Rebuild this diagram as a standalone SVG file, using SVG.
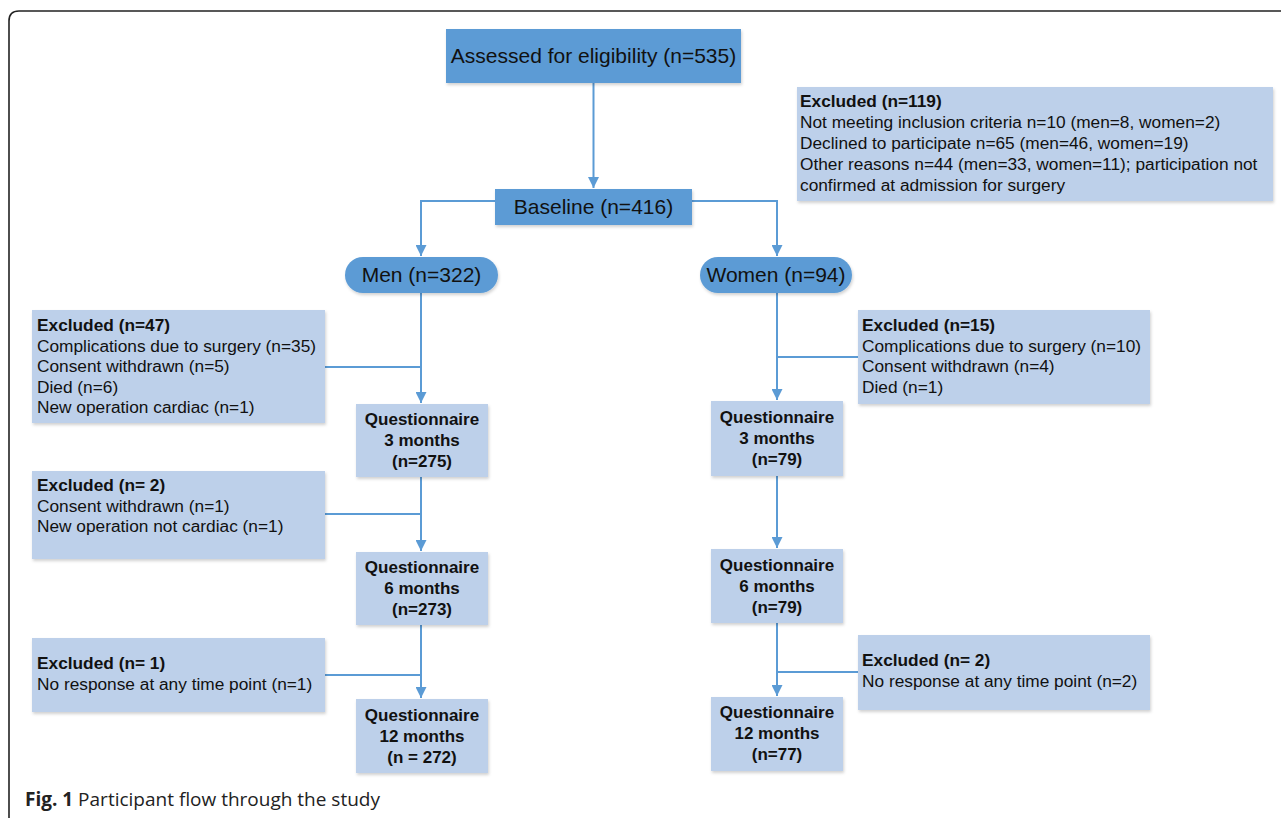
<svg xmlns="http://www.w3.org/2000/svg" width="1281" height="818" viewBox="0 0 1281 818">
<defs>
<marker id="ah" markerUnits="userSpaceOnUse" markerWidth="12" markerHeight="11" refX="11" refY="5.5" orient="auto">
<path d="M0,0 L11,5.5 L0,11 z" fill="#5b9bd5"/>
</marker>
<filter id="sh" x="-5%" y="-5%" width="115%" height="120%">
<feDropShadow dx="1" dy="2" stdDeviation="1.5" flood-color="#000" flood-opacity="0.18"/>
</filter>
<style>
.dk{fill:#5b9bd5;filter:url(#sh)}
.lt{fill:#bdd0ea;filter:url(#sh)}
.c{fill:none;stroke:#5b9bd5;stroke-width:2}
.a{marker-end:url(#ah)}
.big{font-family:"Liberation Sans",Arial,sans-serif;font-size:21px;fill:#111;text-anchor:middle}
.t{font-family:"Liberation Sans",Arial,sans-serif;font-size:17.3px;fill:#111}
.b{font-weight:bold}
.q{font-size:17px}
.m{text-anchor:middle}
.cap{font-family:"Open Sans","Noto Sans",sans-serif;font-size:19px;fill:#222}
</style>
</defs>
<rect width="1281" height="818" fill="#fff"/>
<path d="M9,818 V21 Q9,11 19,11 H1281" fill="none" stroke="#222" stroke-width="1.6"/>

<g id="connectors">
<path class="c a" d="M593.5,83 V188"/>
<path class="c a" d="M495,201 H421 V256"/>
<path class="c a" d="M692,201 H777 V256"/>
<path class="c a" d="M421,293 V403"/>
<path class="c" d="M325,367 H421"/>
<path class="c a" d="M421,477 V551"/>
<path class="c" d="M325,514 H421"/>
<path class="c a" d="M421,625 V698"/>
<path class="c" d="M325,675 H421"/>
<path class="c a" d="M777,293 V400"/>
<path class="c" d="M858,357 H777"/>
<path class="c a" d="M777,476 V548"/>
<path class="c a" d="M777,623 V696"/>
<path class="c" d="M858,672 H777"/>
</g>

<g id="assessed">
<rect class="dk" x="446" y="29" width="295" height="54"/>
<text class="big" x="593.5" y="63">Assessed for eligibility (n=535)</text>
</g>
<g id="excluded119">
<rect class="lt" x="797" y="87" width="476" height="114"/>
<text class="t b" x="800" y="107">Excluded (n=119)</text>
<text class="t" x="800" y="128">Not meeting inclusion criteria n=10 (men=8, women=2)</text>
<text class="t" x="800" y="149">Declined to participate n=65 (men=46, women=19)</text>
<text class="t" x="800" y="170">Other reasons n=44 (men=33, women=11); participation not</text>
<text class="t" x="800" y="191">confirmed at admission for surgery</text>
</g>
<g id="baseline">
<rect class="dk" x="495" y="189" width="197" height="36"/>
<text class="big" x="593.5" y="214">Baseline (n=416)</text>
</g>
<g id="men">
<rect class="dk" x="345" y="257" width="153" height="36" rx="18"/>
<text class="big" x="421.5" y="282">Men (n=322)</text>
</g>
<g id="women">
<rect class="dk" x="700" y="257" width="152" height="36" rx="18"/>
<text class="big" x="776" y="282">Women (n=94)</text>
</g>

<g id="excluded47">
<rect class="lt" x="32" y="310" width="293" height="113"/>
<text class="t b" x="37" y="331">Excluded (n=47)</text>
<text class="t" x="37" y="352">Complications due to surgery (n=35)</text>
<text class="t" x="37" y="372">Consent withdrawn (n=5)</text>
<text class="t" x="37" y="393">Died (n=6)</text>
<text class="t" x="37" y="413">New operation cardiac (n=1)</text>
</g>
<g id="men-q3">
<rect class="lt" x="356" y="404" width="132" height="73"/>
<text class="t q b m" x="422" y="425">Questionnaire</text>
<text class="t q b m" x="422" y="446">3 months</text>
<text class="t q b m" x="422" y="467">(n=275)</text>
</g>
<g id="excluded2m">
<rect class="lt" x="32" y="471" width="293" height="88"/>
<text class="t b" x="37" y="491">Excluded (n= 2)</text>
<text class="t" x="37" y="512">Consent withdrawn (n=1)</text>
<text class="t" x="37" y="532">New operation not cardiac (n=1)</text>
</g>
<g id="men-q6">
<rect class="lt" x="356" y="552" width="132" height="73"/>
<text class="t q b m" x="422" y="573">Questionnaire</text>
<text class="t q b m" x="422" y="594">6 months</text>
<text class="t q b m" x="422" y="615">(n=273)</text>
</g>
<g id="excluded1m">
<rect class="lt" x="32" y="638" width="293" height="74"/>
<text class="t b" x="37" y="669">Excluded (n= 1)</text>
<text class="t" x="37" y="690">No response at any time point (n=1)</text>
</g>
<g id="men-q12">
<rect class="lt" x="356" y="699" width="132" height="74"/>
<text class="t q b m" x="422" y="721">Questionnaire</text>
<text class="t q b m" x="422" y="742">12 months</text>
<text class="t q b m" x="422" y="763">(n = 272)</text>
</g>

<g id="excluded15">
<rect class="lt" x="858" y="310" width="292" height="94"/>
<text class="t b" x="862" y="331">Excluded (n=15)</text>
<text class="t" x="862" y="352">Complications due to surgery (n=10)</text>
<text class="t" x="862" y="372">Consent withdrawn (n=4)</text>
<text class="t" x="862" y="393">Died (n=1)</text>
</g>
<g id="women-q3">
<rect class="lt" x="711" y="401" width="132" height="75"/>
<text class="t q b m" x="777" y="423">Questionnaire</text>
<text class="t q b m" x="777" y="444">3 months</text>
<text class="t q b m" x="777" y="465">(n=79)</text>
</g>
<g id="women-q6">
<rect class="lt" x="711" y="549" width="132" height="74"/>
<text class="t q b m" x="777" y="571">Questionnaire</text>
<text class="t q b m" x="777" y="592">6 months</text>
<text class="t q b m" x="777" y="613">(n=79)</text>
</g>
<g id="excluded2w">
<rect class="lt" x="858" y="635" width="292" height="75"/>
<text class="t b" x="862" y="666">Excluded (n= 2)</text>
<text class="t" x="862" y="687">No response at any time point (n=2)</text>
</g>
<g id="women-q12">
<rect class="lt" x="711" y="697" width="132" height="74"/>
<text class="t q b m" x="777" y="718">Questionnaire</text>
<text class="t q b m" x="777" y="739">12 months</text>
<text class="t q b m" x="777" y="760">(n=77)</text>
</g>

<g id="caption">
<text class="cap" x="25" y="806"><tspan font-weight="bold">Fig. 1</tspan> Participant flow through the study</text>
</g>
</svg>
